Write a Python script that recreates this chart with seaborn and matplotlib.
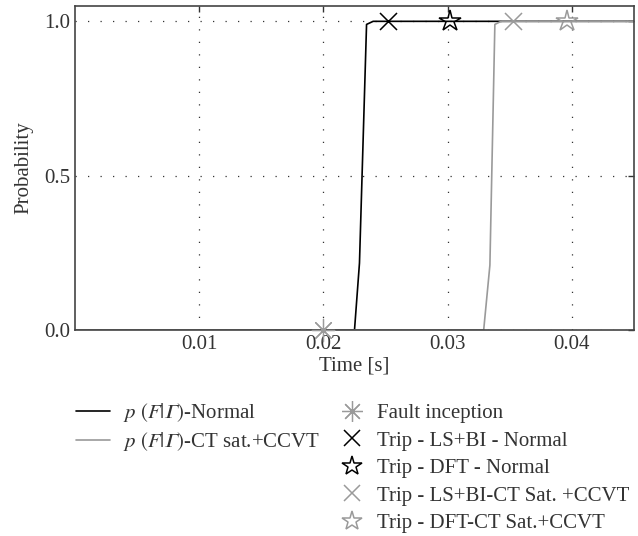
import numpy as np
import pandas as pd
import seaborn as sns
import matplotlib
matplotlib.use("Agg")
import matplotlib.pyplot as plt
from matplotlib.lines import Line2D

# curve data
t_normal = [0.0, 0.0225, 0.0229, 0.02347, 0.0240, 0.045]
p_normal = [0.0, 0.0, 0.217, 0.99, 1.0, 1.0]
t_sat = [0.0, 0.0329, 0.0334, 0.0338, 0.0343, 0.045]
p_sat = [0.0, 0.0, 0.21, 0.99, 1.0, 1.0]

# event markers
ev_names = ["Fault inception", "Trip - LS+BI - Normal", "Trip - DFT - Normal",
            "Trip - LS+BI-CT Sat. +CCVT", "Trip - DFT-CT Sat.+CCVT"]
ev_time = [0.020, 0.0252, 0.0302, 0.0353, 0.0396]
ev_prob = [0.0, 1.0, 1.0, 1.0, 1.0]
ev_color = ["#9a9a9a", "#000000", "#000000", "#9a9a9a", "#9a9a9a"]
ev_marker = [(8, 2, 0), "x", "*", "x", "*"]

line_names = [r"$p\ (F|𝛤)$-Normal", r"$p\ (F|𝛤)$-CT sat.+CCVT"]
line_colors = ["#000000", "#9a9a9a"]

sns.set_theme(style="white")
plt.rcParams["font.family"] = ["Liberation Serif", "DejaVu Serif"]
plt.rcParams["mathtext.fontset"] = "stix"
plt.rcParams["xtick.direction"] = "in"
plt.rcParams["ytick.direction"] = "in"

FS = 15

fig = plt.figure(figsize=(6.38, 5.36), dpi=100)
ax = fig.add_axes([0.1176, 0.3843, 0.8761, 0.6047])

df1 = pd.DataFrame({"t": t_normal, "p": p_normal})
df2 = pd.DataFrame({"t": t_sat, "p": p_sat})
sns.lineplot(data=df1, x="t", y="p", ax=ax, color=line_colors[0], lw=1.2,
             sort=False, estimator=None)
sns.lineplot(data=df2, x="t", y="p", ax=ax, color=line_colors[1], lw=1.2,
             sort=False, estimator=None)

handles2 = []
for name, x, y, c, m in zip(ev_names, ev_time, ev_prob, ev_color, ev_marker):
    if m == "*":
        ax.plot([x], [y], marker=m, ms=16, mfc="none", mec=c, mew=1.1, ls="none",
                zorder=5, clip_on=False)
        handles2.append(Line2D([], [], marker=m, ms=15, mfc="none", mec=c,
                               mew=1.1, ls="none"))
    elif m == "x":
        sns.scatterplot(x=[x], y=[y], ax=ax, marker=m, s=150, color=c,
                        linewidth=1.1, zorder=5, clip_on=False)
        handles2.append(Line2D([], [], marker=m, ms=11, color=c, mew=1.1,
                               ls="none"))
    else:
        sns.scatterplot(x=[x], y=[y], ax=ax, marker=m, s=260, color=c,
                        linewidth=0.9, zorder=5, clip_on=False)
        handles2.append(Line2D([], [], marker=m, ms=15, color=c, mew=0.9,
                               ls="none"))

ax.set_xlim(0, 0.045)
ax.set_ylim(0, 1.05)
ax.set_xticks([0.01, 0.02, 0.03, 0.04])
ax.set_xticklabels(["0.01", "0.02", "0.03", "0.04"])
ax.set_yticks([0.0, 0.5, 1.0])
ax.set_yticklabels(["0.0", "0.5", "1.0"])
ax.tick_params(labelsize=FS, length=4, width=1, top=True, right=True,
               color="#333333", colors="#333333")
ax.grid(True, ls=(0, (1, 9)), color="#333333", lw=0.9)
for s in ax.spines.values():
    s.set_color("#444444")
    s.set_linewidth(1.2)
ax.set_xlabel("Time [s]", fontsize=FS, color="#333333", labelpad=2)
ax.set_ylabel("Probability", fontsize=FS, color="#333333", labelpad=8)

handles1 = [Line2D([], [], color=c, lw=1.2) for c in line_colors]
leg1 = fig.legend(handles1, line_names, loc="upper left",
                  bbox_to_anchor=(0.0896, 0.287), frameon=False, fontsize=FS,
                  handlelength=1.63, labelspacing=0.3, handletextpad=0.62,
                  labelcolor="#333333")
leg2 = fig.legend(handles2, ev_names, loc="upper left",
                  bbox_to_anchor=(0.503, 0.282), frameon=False, fontsize=FS,
                  handlelength=1.2, labelspacing=0.38, handletextpad=0.6,
                  labelcolor="#333333")

fig.savefig("out.png", dpi=100)
